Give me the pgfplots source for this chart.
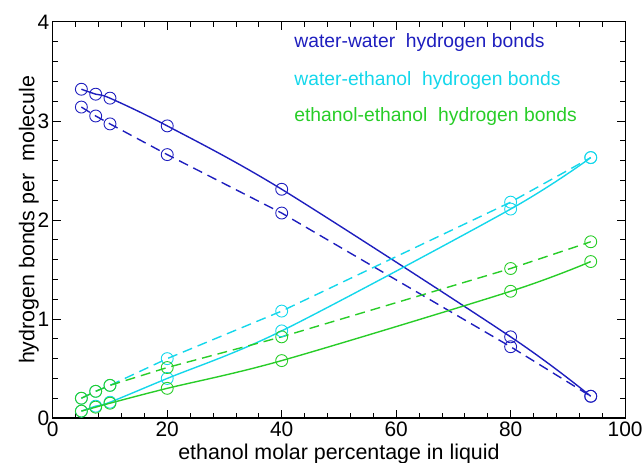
\documentclass[border=0pt]{standalone}
\usepackage{pgfplots}
\pgfplotsset{compat=1.18}
\usepackage{fontspec}
\setmainfont{Liberation Sans}
\definecolor{cww}{RGB}{30,30,190}
\definecolor{cwe}{RGB}{20,215,235}
\definecolor{cee}{RGB}{40,205,40}
\begin{document}
\begin{tikzpicture}
\begin{axis}[
  scale only axis, width=575pt, height=398pt,
  xmin=0, xmax=100, ymin=0, ymax=4,
  xtick={0,20,40,60,80,100}, ytick={0,1,2,3,4},
  minor x tick num=4, minor y tick num=4,
  tick align=inside, major tick length=8pt, minor tick length=5pt,
  tick style={black, line width=0.8pt},
  axis line style={line width=1.2pt},
  every tick label/.append style={font=\fontsize{21}{24}\selectfont},
  /pgf/number format/assume math mode=true,
  xlabel={ethanol molar percentage in liquid},
  ylabel={hydrogen bonds per\ \ molecule},
  label style={font=\fontsize{21.5}{24}\selectfont},
  xlabel style={yshift=-0.5pt},
  ylabel style={yshift=-8pt},
  every axis plot/.append style={line width=1.4pt, mark=o, mark size=6pt, mark options={solid, line width=0.9pt}},
  clip=false,
]
\addplot[cww, smooth] coordinates {(5,3.32) (7.5,3.27) (10,3.23) (20,2.95) (40,2.31) (80,0.82) (94,0.22)};
\addplot[cww, dashed, dash pattern=on 10pt off 6pt] coordinates {(5,3.14) (7.5,3.05) (10,2.97) (20,2.66) (40,2.07) (80,0.72) (94,0.22)};
\addplot[cwe, smooth] coordinates {(5,0.07) (7.5,0.12) (10,0.16) (20,0.40) (40,0.88) (80,2.11) (94,2.63)};
\addplot[cwe, dash pattern=on 10pt off 6pt] coordinates {(5,0.20) (7.5,0.27) (10,0.33) (20,0.60) (40,1.08) (80,2.18) (94,2.63)};
\addplot[cee, smooth] coordinates {(5,0.07) (7.5,0.11) (10,0.15) (20,0.30) (40,0.58) (80,1.28) (94,1.58)};
\addplot[cee, dash pattern=on 10pt off 6pt] coordinates {(5,0.20) (7.5,0.27) (10,0.33) (20,0.51) (40,0.82) (80,1.51) (94,1.78)};
\node[anchor=west, text=cww, font=\fontsize{19.4}{22}\selectfont] at (axis cs:41.6,3.79) {water-water\ \ hydrogen bonds};
\node[anchor=west, text=cwe, font=\fontsize{19.4}{22}\selectfont] at (axis cs:41.6,3.41) {water-ethanol\ \ hydrogen bonds};
\node[anchor=west, text=cee, font=\fontsize{19.4}{22}\selectfont] at (axis cs:41.6,3.04) {ethanol-ethanol\ \ hydrogen bonds};
\end{axis}
\pgfresetboundingbox
\path (current axis.south west) ++(-53pt,-45pt) rectangle ([shift={(19pt,22pt)}]current axis.north east);
\end{tikzpicture}
\end{document}
